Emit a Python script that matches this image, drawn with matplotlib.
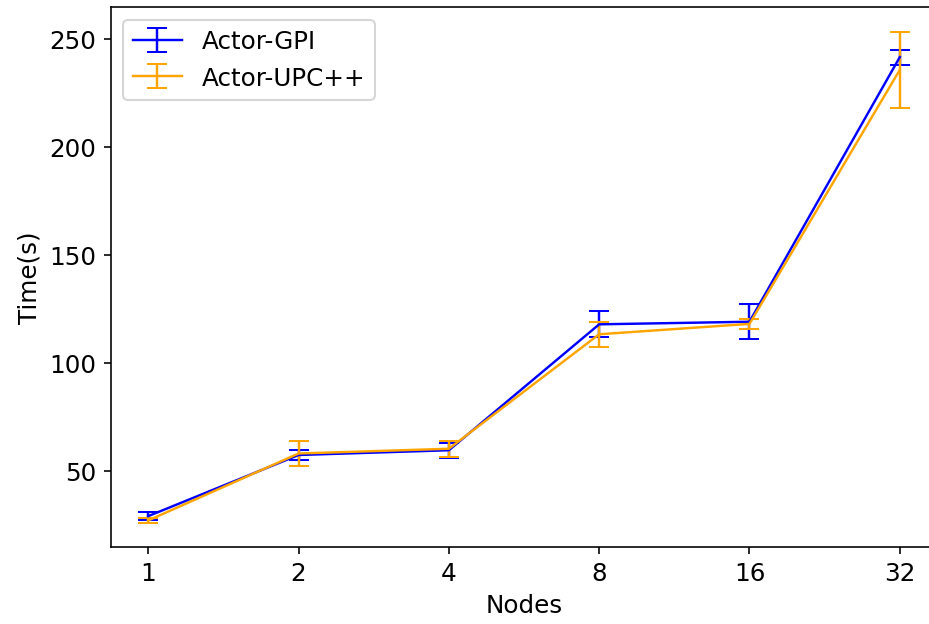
import matplotlib.pyplot as plt

nodes = ["1", "2", "4", "8", "16", "32"]
gpi_mean = [29, 57.3, 59.5, 117.8, 119, 241.5]
gpi_err = [2, 2.5, 3.5, 6, 8, 3.5]
upc_mean = [27, 58, 60.2, 113.2, 118, 235.6]
upc_err = [1, 6, 3.7, 5.8, 2.3, 17.6]

plt.rcParams["font.size"] = 12.2
fig = plt.figure(figsize=(6.4, 4.3), dpi=145.3)
x = range(len(nodes))
plt.errorbar(x, gpi_mean, yerr=gpi_err, color="blue", capsize=5, lw=1.2, label="Actor-GPI")
plt.errorbar(x, upc_mean, yerr=upc_err, color="orange", capsize=5, lw=1.2, label="Actor-UPC++")
plt.xticks(x, nodes)
plt.xlabel("Nodes")
plt.ylabel("Time(s)")
plt.legend(loc="upper left")
plt.subplots_adjust(left=0.119, right=1.008, bottom=0.123, top=0.987)
plt.savefig("out.png")
